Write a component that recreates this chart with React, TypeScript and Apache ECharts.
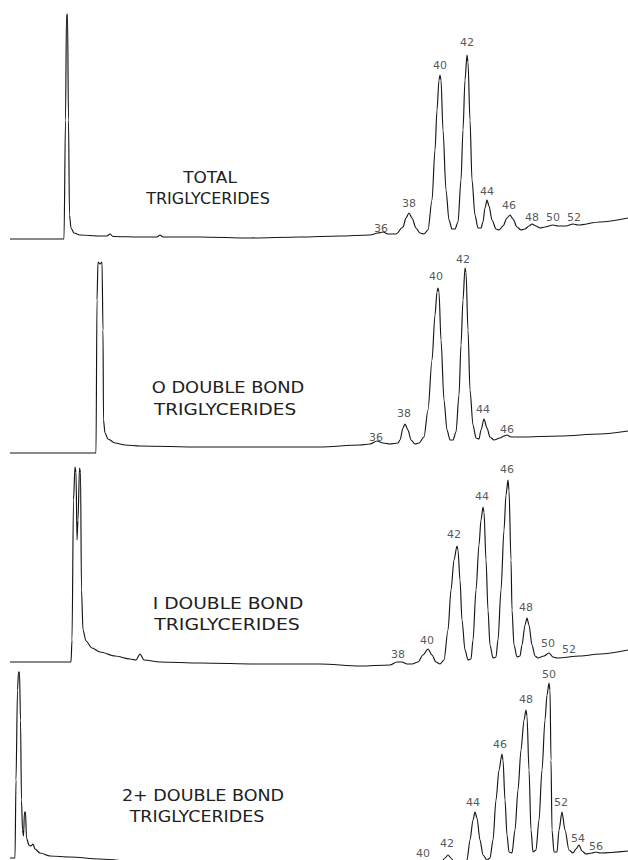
import React, { useEffect, useRef } from "react";
import * as echarts from "echarts";

// x: chart distance (mm from start of recording), y: detector response above panel floor

// Panel 1 - TOTAL TRIGLYCERIDES
const TOTAL_TRACE: [number, number][] = [
  [10, 6], [64, 6], [65.5, 125], [66.5, 230], [67.5, 231], [68.5, 125], [69.5, 30], [71, 17],
  [74, 12], [80, 10], [100, 9], [107, 9], [110, 11], [113, 8.5], [140, 8], [157, 8], [160, 10],
  [163, 8], [200, 8], [250, 7], [300, 8], [340, 9], [370, 10], [378, 12], [383, 13], [388, 11],
  [396, 11], [403, 18], [406, 27], [409, 32], [412, 27], [416, 17], [420, 12], [424, 11],
  [428, 15], [432, 45], [435, 95], [437, 135], [439, 165], [440, 170], [441, 165], [443, 115],
  [446, 55], [449, 25], [452, 16], [455, 16], [458, 23], [461, 65], [463, 115], [465, 165],
  [467, 190], [468, 183], [470, 125], [472, 65], [475, 30], [478, 17], [481, 17], [483, 23],
  [485, 37], [487, 45], [489, 39], [492, 25], [496, 16], [499, 15], [503, 19], [507, 27],
  [510, 30], [513, 26], [517, 18], [521, 15], [525, 16], [529, 19], [532, 21], [536, 19],
  [540, 17], [545, 18], [553, 20], [558, 19], [566, 19], [573, 21], [578, 20], [600, 23], [628, 27],
];
const TOTAL_PEAKS: [number, number, string][] = [
  [381, 17, "36"], [409, 42, "38"], [440, 180, "40"], [467, 203, "42"], [487, 54, "44"],
  [509, 40, "46"], [532, 28, "48"], [553, 28, "50"], [574, 28, "52"],
];

// Panel 2 - 0 DOUBLE BOND TRIGLYCERIDES
const ZERO_TRACE: [number, number][] = [
  [10, 7], [96, 7], [97, 160], [98, 198], [100, 196], [102, 198], [103, 130], [103.5, 40],
  [105, 27], [108, 21], [115, 17], [125, 15], [140, 14], [200, 13], [260, 13], [320, 13],
  [360, 15], [370, 16], [377, 19], [383, 17], [390, 16], [398, 17], [400, 20], [403, 32],
  [405, 36], [408, 30], [411, 20], [415, 16], [419, 17], [424, 23], [428, 50], [432, 100],
  [435, 145], [437, 168], [438, 172], [439, 168], [441, 120], [444, 60], [447, 30], [450, 20],
  [453, 20], [456, 28], [459, 65], [461, 115], [463, 160], [465, 192], [466, 188], [468, 130],
  [470, 70], [473, 35], [476, 22], [479, 21], [481, 30], [484, 41], [487, 32], [490, 23],
  [494, 20], [500, 22], [504, 24], [507, 25], [511, 23], [520, 23], [560, 24], [600, 26], [628, 29],
];
const ZERO_PEAKS: [number, number, string][] = [
  [376, 23, "36"], [404, 47, "38"], [436, 184, "40"], [463, 201, "42"], [483, 51, "44"], [507, 31, "46"],
];

// Panel 3 - I DOUBLE BOND TRIGLYCERIDES
const ONE_TRACE: [number, number][] = [
  [10, 8], [71, 8], [72, 30], [73.5, 170], [75, 203], [76, 198], [77, 130], [78, 150],
  [79.5, 202], [80.5, 198], [81.5, 80], [83, 40], [86, 29], [92, 22], [100, 18], [115, 14],
  [130, 11], [136, 10], [140, 16], [144, 10], [160, 8], [200, 7], [260, 6], [320, 6], [360, 4],
  [390, 5], [397, 8], [402, 8], [407, 6], [412, 6], [418, 8], [423, 15], [428, 21], [432, 15],
  [436, 8], [440, 6], [444, 10], [448, 40], [451, 80], [454, 110], [457, 124], [458, 120],
  [460, 90], [462, 50], [465, 20], [468, 10], [471, 11], [473, 30], [476, 80], [479, 125],
  [481, 150], [483, 163], [484, 158], [486, 110], [488, 60], [490, 25], [493, 12], [496, 13],
  [498, 30], [501, 80], [504, 140], [506, 175], [508, 190], [509, 180], [511, 110], [512, 60],
  [514, 25], [517, 13], [520, 14], [522, 25], [525, 45], [527, 52], [529, 45], [532, 25],
  [535, 14], [538, 12], [544, 14], [549, 17], [553, 13], [557, 12], [580, 14], [600, 16], [628, 20],
];
const ONE_PEAKS: [number, number, string][] = [
  [398, 16, "38"], [427, 30, "40"], [454, 136, "42"], [482, 174, "44"], [507, 201, "46"],
  [526, 63, "48"], [548, 27, "50"], [569, 21, "52"],
];

// Panel 4 - 2+ DOUBLE BOND TRIGLYCERIDES
const TWO_TRACE: [number, number][] = [
  [10, 2], [15, 2], [16, 80], [17.5, 170], [18.5, 188], [19.5, 188], [20.5, 140], [21.5, 60],
  [22.5, 30], [23.5, 24], [24.5, 48], [25.5, 48], [26.5, 22], [29, 15], [31, 14], [33, 16],
  [35, 11], [40, 7], [50, 4], [70, 3], [100, 1], [140, -2], [300, -6], [400, -6], [440, -4],
  [445, 2], [448, 5], [451, 2], [455, -4], [462, -6], [467, 0], [470, 20], [473, 40], [475, 48],
  [477, 42], [480, 20], [483, 5], [487, 0], [490, 2], [493, 20], [496, 60], [499, 90], [502, 106],
  [503, 100], [505, 60], [507, 25], [509, 8], [512, 7], [515, 30], [518, 70], [521, 110],
  [524, 140], [526, 150], [527, 144], [529, 90], [531, 30], [533, 8], [536, 10], [539, 40],
  [542, 90], [545, 140], [547, 165], [549, 177], [550, 170], [551, 100], [552, 30], [554, 8],
  [557, 8], [559, 30], [562, 48], [565, 30], [569, 10], [573, 7], [576, 11], [579, 15], [582, 9],
  [586, 6], [592, 7], [596, 8], [600, 7], [628, 9],
];
const TWO_PEAKS: [number, number, string][] = [
  [423, 7, "40"], [447, 17, "42"], [473, 58, "44"], [500, 116, "46"], [526, 161, "48"],
  [549, 186, "50"], [561, 58, "52"], [578, 22, "54"], [596, 14, "56"],
];

const TRACES = [TOTAL_TRACE, ZERO_TRACE, ONE_TRACE, TWO_TRACE];
const PEAKS = [TOTAL_PEAKS, ZERO_PEAKS, ONE_PEAKS, TWO_PEAKS];
const TITLES: string[][] = [
  ["TOTAL", "TRIGLYCERIDES"],
  ["O DOUBLE BOND", "TRIGLYCERIDES"],
  ["I DOUBLE BOND", "TRIGLYCERIDES"],
  ["2+ DOUBLE BOND", "TRIGLYCERIDES"],
];

// layout (pixels)
const PANELS = [
  { top: 0, height: 245 },
  { top: 245, height: 215 },
  { top: 460, height: 210 },
  { top: 665, height: 195 },
];
const TITLE_POS = [
  [{ x: 210, y: 178, s: 1.13 }, { x: 208, y: 199, s: 1.07 }],
  [{ x: 228, y: 388, s: 1.19 }, { x: 225, y: 410, s: 1.23 }],
  [{ x: 228, y: 604, s: 1.245 }, { x: 227, y: 625, s: 1.26 }],
  [{ x: 203, y: 796, s: 1.17 }, { x: 197, y: 817, s: 1.165 }],
];

const FONT = "DejaVu Sans";

export default function App() {
  const ref = useRef<HTMLDivElement>(null);
  useEffect(() => {
    document.body.style.margin = "0";
    document.body.style.background = "#fff";
    if (!ref.current) return;
    const chart = echarts.init(ref.current, null, { renderer: "svg" });

    const grid = PANELS.map((p) => ({ left: 0, right: 0, top: p.top, height: p.height }));
    const xAxis = PANELS.map((_, i) => ({
      type: "value", gridIndex: i, min: 0, max: 628, show: false,
    }));
    const yAxis = PANELS.map((p, i) => ({
      type: "value", gridIndex: i, min: 0, max: p.height, show: false,
    }));
    const series: any[] = [];
    TRACES.forEach((tr, i) => {
      series.push({
        type: "line",
        xAxisIndex: i,
        yAxisIndex: i,
        data: tr,
        showSymbol: false,
        symbol: "none",
        smooth: 0.3,
        smoothMonotone: "x",
        clip: true,
        silent: true,
        lineStyle: { color: "#151515", width: 1.15 },
      });
      series.push({
        type: "scatter",
        xAxisIndex: i,
        yAxisIndex: i,
        symbolSize: 1,
        silent: true,
        itemStyle: { color: "rgba(0,0,0,0)" },
        data: PEAKS[i].map((p) => ({ value: [p[0], p[1]], name: p[2] })),
        label: {
          show: true,
          position: "inside",
          formatter: "{b}",
          color: "#2a2a2a",
          fontFamily: FONT,
          fontSize: 11,
        },
      });
    });

    const graphic: any[] = [];
    TITLES.forEach((lines, i) => {
      lines.forEach((t, j) => {
        const pos = TITLE_POS[i][j];
        graphic.push({
          type: "text",
          x: pos.x,
          y: pos.y,
          scaleX: pos.s,
          silent: true,
          style: {
            text: t,
            fill: "#202020",
            font: `15px "${FONT}"`,
            textAlign: "center",
            textVerticalAlign: "middle",
          },
        });
      });
    });

    chart.setOption({
      animation: false,
      backgroundColor: "#ffffff",
      grid,
      xAxis,
      yAxis,
      series,
      graphic,
    });
    return () => chart.dispose();
  }, []);
  return <div ref={ref} style={{ width: 628, height: 860 }} />;
}
